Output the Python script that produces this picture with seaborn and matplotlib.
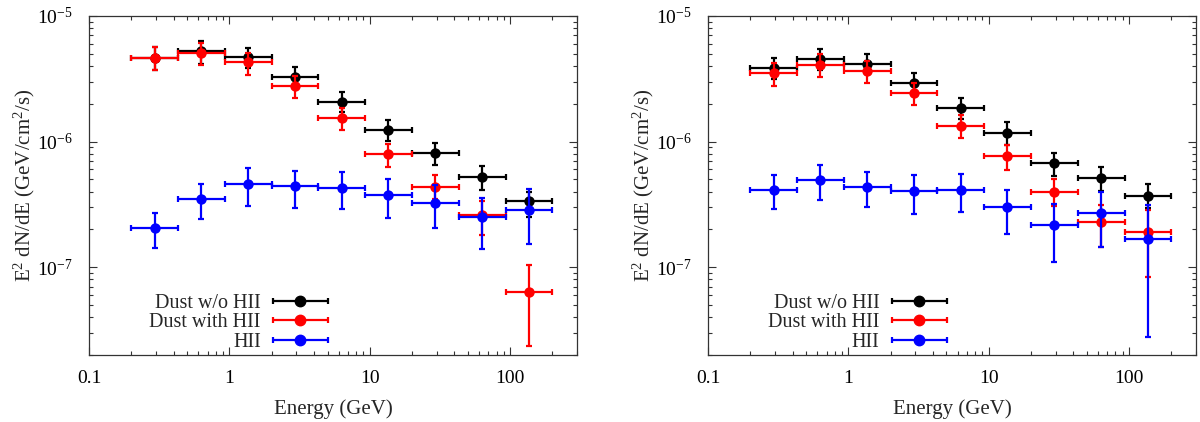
import numpy as np
import pandas as pd
import matplotlib
matplotlib.use('Agg')
import matplotlib.pyplot as plt
import seaborn as sns
from matplotlib.ticker import FixedLocator, FixedFormatter, LogLocator, LogFormatterMathtext, NullFormatter
from matplotlib.container import ErrorbarContainer
from matplotlib.legend_handler import HandlerErrorbar

# energy bins (GeV)
bin_lo = [0.2, 0.431, 0.928, 2.0, 4.31, 9.28, 20.0, 43.1, 92.8]
bin_hi = [0.431, 0.928, 2.0, 4.31, 9.28, 20.0, 43.1, 92.8, 200.0]
energy = [0.294, 0.632, 1.36, 2.94, 6.32, 13.6, 29.4, 63.2, 136.0]

series_names = ['Dust w/o HII', 'Dust with HII', 'HII']
series_colors = ['black', 'red', 'blue']

# left panel: flux, upper and lower error bounds
left_nohii = [4.62e-6, 5.22e-6, 4.71e-6, 3.27e-6, 2.06e-6, 1.24e-6, 8.09e-7, 5.25e-7, 3.35e-7]
left_nohii_up = [5.65e-6, 6.27e-6, 5.60e-6, 3.92e-6, 2.47e-6, 1.48e-6, 9.70e-7, 6.38e-7, 4.00e-7]
left_nohii_dn = [3.69e-6, 4.14e-6, 3.85e-6, 2.68e-6, 1.72e-6, 1.01e-6, 6.53e-7, 4.14e-7, 2.53e-7]

left_withhii = [4.62e-6, 5.06e-6, 4.30e-6, 2.76e-6, 1.55e-6, 7.98e-7, 4.38e-7, 2.58e-7, 6.38e-8]
left_withhii_up = [5.65e-6, 6.08e-6, 5.06e-6, 3.35e-6, 1.86e-6, 9.64e-7, 5.42e-7, 3.35e-7, 1.04e-7]
left_withhii_dn = [3.69e-6, 4.05e-6, 3.39e-6, 2.22e-6, 1.23e-6, 6.30e-7, 3.50e-7, 1.82e-7, 2.36e-8]

left_hii = [2.06e-7, 3.50e-7, 4.59e-7, 4.40e-7, 4.30e-7, 3.76e-7, 3.25e-7, 2.50e-7, 2.87e-7]
left_hii_up = [2.69e-7, 4.59e-7, 6.19e-7, 5.82e-7, 5.71e-7, 5.00e-7, 4.51e-7, 3.56e-7, 4.19e-7]
left_hii_dn = [1.42e-7, 2.40e-7, 3.06e-7, 2.95e-7, 2.88e-7, 2.47e-7, 2.05e-7, 1.39e-7, 1.54e-7]

# right panel
right_nohii = [3.85e-6, 4.54e-6, 4.17e-6, 2.93e-6, 1.85e-6, 1.16e-6, 6.73e-7, 5.13e-7, 3.71e-7]
right_nohii_up = [4.62e-6, 5.48e-6, 5.00e-6, 3.52e-6, 2.22e-6, 1.43e-6, 8.18e-7, 6.22e-7, 4.59e-7]
right_nohii_dn = [3.15e-6, 3.74e-6, 3.47e-6, 2.40e-6, 1.52e-6, 9.35e-7, 5.35e-7, 4.05e-7, 2.95e-7]

right_withhii = [3.52e-6, 4.09e-6, 3.62e-6, 2.43e-6, 1.33e-6, 7.66e-7, 4.00e-7, 2.28e-7, 1.90e-7]
right_withhii_up = [4.22e-6, 4.98e-6, 4.41e-6, 2.93e-6, 1.62e-6, 9.35e-7, 5.04e-7, 3.10e-7, 2.85e-7]
right_withhii_dn = [2.79e-6, 3.27e-6, 2.93e-6, 1.94e-6, 1.06e-6, 5.97e-7, 3.06e-7, 1.45e-7, 8.38e-8]

right_hii = [4.14e-7, 4.98e-7, 4.32e-7, 4.02e-7, 4.12e-7, 3.00e-7, 2.15e-7, 2.69e-7, 1.68e-7]
right_hii_up = [5.44e-7, 6.53e-7, 5.69e-7, 5.42e-7, 5.55e-7, 4.14e-7, 3.19e-7, 3.95e-7, 3.13e-7]
right_hii_dn = [2.88e-7, 3.45e-7, 3.04e-7, 2.67e-7, 2.74e-7, 1.85e-7, 1.10e-7, 1.45e-7, 2.80e-8]

x_ticks = [0.1, 1, 10, 100]
x_ticklabels = ['0.1', '1', '10', '100']


def build_frame(panel, values):
    rows = []
    for name, (flux, up, dn) in zip(series_names, values):
        for i in range(len(energy)):
            rows.append({'panel': panel, 'series': name, 'energy': energy[i],
                         'lo': bin_lo[i], 'hi': bin_hi[i],
                         'flux': flux[i], 'up': up[i], 'dn': dn[i]})
    return pd.DataFrame(rows)


df = pd.concat([
    build_frame('left', [(left_nohii, left_nohii_up, left_nohii_dn),
                         (left_withhii, left_withhii_up, left_withhii_dn),
                         (left_hii, left_hii_up, left_hii_dn)]),
    build_frame('right', [(right_nohii, right_nohii_up, right_nohii_dn),
                          (right_withhii, right_withhii_up, right_withhii_dn),
                          (right_hii, right_hii_up, right_hii_dn)]),
], ignore_index=True)

sns.set_style('ticks')
plt.rcParams['font.family'] = ['Liberation Serif', 'DejaVu Serif']
plt.rcParams['mathtext.default'] = 'regular'
plt.rcParams['axes.unicode_minus'] = False


def plot_panel(ax, data):
    for k, (name, color) in enumerate(zip(series_names, series_colors)):
        sub = data[data['series'] == name]
        xerr = [sub['energy'] - sub['lo'], sub['hi'] - sub['energy']]
        yerr = [sub['flux'] - sub['dn'], sub['up'] - sub['flux']]
        ax.errorbar(sub['energy'], sub['flux'], xerr=xerr, yerr=yerr, fmt='none',
                    ecolor=color, elinewidth=1.6, capsize=2.5, capthick=1.6,
                    zorder=2 + 2 * k)
        sns.scatterplot(data=sub, x='energy', y='flux', color=color, s=56,
                        linewidth=0, edgecolor=color, legend=False, ax=ax,
                        zorder=3 + 2 * k)
        # legend proxy (horizontal bar only)
        ax.errorbar([np.nan], [np.nan], xerr=[[1], [1]], fmt='o', color=color,
                    ms=7.5, elinewidth=1.6, capsize=2.5, capthick=1.6, label=name)

    ax.set_xscale('log')
    ax.set_yscale('log')
    ax.set_xlim(0.1, 300)
    ax.set_ylim(2e-8, 1e-5)
    ax.xaxis.set_major_locator(FixedLocator(x_ticks))
    ax.xaxis.set_major_formatter(FixedFormatter(x_ticklabels))
    ax.xaxis.set_minor_locator(LogLocator(base=10, subs=np.arange(2, 10)))
    ax.xaxis.set_minor_formatter(NullFormatter())
    ax.yaxis.set_major_locator(LogLocator(base=10, numticks=10))
    ax.yaxis.set_major_formatter(LogFormatterMathtext())
    ax.yaxis.set_minor_locator(LogLocator(base=10, subs=np.arange(2, 10), numticks=10))
    ax.yaxis.set_minor_formatter(NullFormatter())
    ax.tick_params(which='both', direction='in', top=True, right=True,
                   colors='#333333', labelcolor='black', labelsize=14, width=0.8)
    ax.tick_params(axis='x', which='major', length=6, pad=11)
    ax.tick_params(axis='y', which='major', length=6, pad=12)
    ax.tick_params(which='minor', length=3)
    for s in ax.spines.values():
        s.set_linewidth(0.9)
        s.set_color('#333333')
        s.set_visible(True)

    ax.set_xlabel('Energy (GeV)', fontsize=15, labelpad=9)
    ax.set_ylabel('E$^{2}$ dN/dE (GeV/cm$^{2}$/s)', fontsize=15, labelpad=0)

    ax.legend(loc='lower right', bbox_to_anchor=(0.49, 0.01), frameon=False,
              markerfirst=False, fontsize=14.5, handlelength=2.75, handletextpad=0.6,
              labelspacing=0.0, borderpad=0, borderaxespad=0,
              handler_map={ErrorbarContainer: HandlerErrorbar(xerr_size=1.375)})


fig = plt.figure(figsize=(12, 4.22), dpi=100)
ax_left = fig.add_axes([0.0742, 0.1588, 0.4067, 0.8033])
ax_right = fig.add_axes([0.59, 0.1588, 0.4067, 0.8033])

plot_panel(ax_left, df[df['panel'] == 'left'])
plot_panel(ax_right, df[df['panel'] == 'right'])

fig.savefig('out.png', dpi=100, facecolor='white')
plt.close(fig)
